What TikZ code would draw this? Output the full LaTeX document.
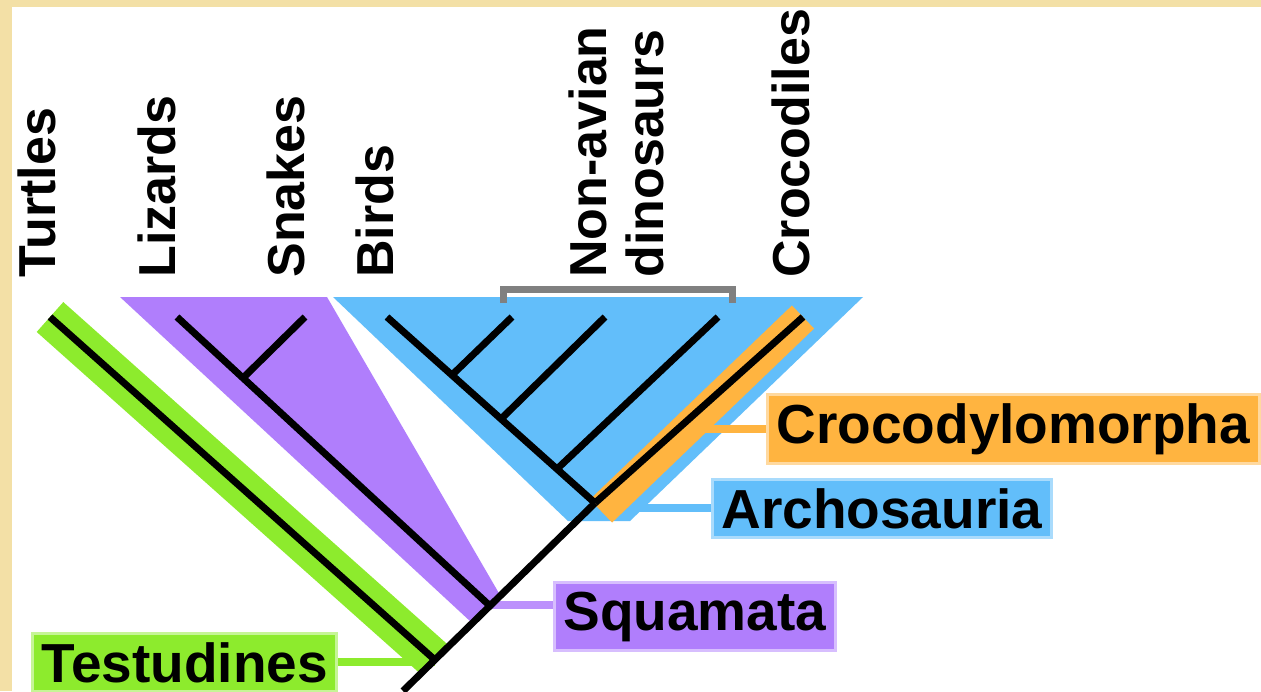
\documentclass[tikz,border=0pt]{standalone}
\usepackage{fontspec}
\setmainfont{Liberation Sans}
\usepackage{tikz}
\usetikzlibrary{calc}

\definecolor{parchment}{RGB}{243,224,166}
\definecolor{testgreen}{RGB}{141,235,45}
\definecolor{squapurple}{RGB}{176,126,252}
\definecolor{archblue}{RGB}{98,190,250}
\definecolor{crocorange}{RGB}{255,180,64}
\definecolor{brackgray}{RGB}{128,128,128}

\begin{document}
\begin{tikzpicture}[
    x=0.5pt, y=-0.5pt,
    branch/.style={line width=3.5pt, black},
    taxon/.style={rotate=90, anchor=base west, inner sep=0pt, font=\fontsize{26}{28}\selectfont\bfseries},
    cladebox/.style={anchor=base west, inner xsep=4.5pt, inner ysep=4.5pt, line width=1.5pt, font=\fontsize{27.5}{30}\selectfont\bfseries},
    link/.style={line width=4pt}
]
    \useasboundingbox (0,0) rectangle (1261,691);
    \fill[parchment] (0,0) rectangle (1261,691);
    \fill[white] (12,7) rectangle (1261,691);

    % tips and branch points
    \coordinate (root) at (403,691);
    \coordinate (turtnode) at (435,660);
    \coordinate (squanode) at (489,605);
    \coordinate (archnode) at (595,503);
    \coordinate (turtles) at (50,317);
    \coordinate (lizards) at (177,317);
    \coordinate (snakes) at (305,317);
    \coordinate (lsnode) at (243,378);
    \coordinate (birds) at (387,317);
    \coordinate (dinoA) at (512,317);
    \coordinate (dinoB) at (605,317);
    \coordinate (dinoC) at (718,317);
    \coordinate (crocs) at (803,317);
    \coordinate (bdnode) at (452,375);
    \coordinate (dnodeB) at (501,419);
    \coordinate (dnodeC) at (557,469);
    \coordinate (crocmid) at ($(crocs)!0.6!(archnode)$);

    % clade shading
    \fill[squapurple] (120,297) -- (327,297) -- (500,595) -- (471,622) -- cycle;
    \fill[archblue] (333,297) -- (863,297) -- (630,521) -- (568,521) -- cycle;

    % labels at the top
    \node[taxon] (lturtles) at (55,278) {Turtles};
    \node[taxon] (llizards) at (175,278) {Lizards};
    \node[taxon] (lsnakes) at (304,278) {Snakes};
    \node[taxon] (lbirds) at (393,278) {Birds};
    \node[taxon] (lnonavian) at (606,278) {Non-avian};
    \node[taxon] (ldinos) at (663,278) {dinosaurs};
    \node[taxon] (lcrocs) at (809,278) {Crocodiles};

    \draw[brackgray, line width=3.5pt] (503,303) -- (503,289) -- (732,289) -- (732,303);

    % clade names
    \node[cladebox, fill=testgreen, draw=testgreen!50!white] (testu) at (31,682) {Testudines};
    \node[cladebox, fill=squapurple, draw=squapurple!50!white] (squa) at (553,630) {Squamata};
    \node[cladebox, fill=archblue, draw=archblue!55!white] (archo) at (711,528) {Archosauria};
    \node[cladebox, fill=crocorange, draw=crocorange!50!white] (croco) at (766,443) {Crocodylomorpha};

    \draw[link, testgreen] (testu.east) -- (testu.east -| turtnode);
    \draw[link, squapurple!85!white] (squa.west |- squanode) -- (squanode);
    \draw[link, archblue] (archo.west) -- (archo.west -| archnode);
    \draw[link, crocorange] (croco.west) -- (croco.west -| crocmid);

    \draw[testgreen, line width=20pt] (turtles) -- (turtnode);
    \draw[crocorange, line width=16pt] (crocs) -- ($(archnode)+(6,8)$);

    % the tree
    \draw[branch] (root) -- (archnode);
    \draw[branch] (turtnode) -- (turtles);
    \draw[branch] (squanode) -- (lsnode) -- (lizards);
    \draw[branch] (lsnode) -- (snakes);
    \draw[branch] (archnode) -- (birds);
    \draw[branch] (bdnode) -- (dinoA);
    \draw[branch] (dnodeB) -- (dinoB);
    \draw[branch] (dnodeC) -- (dinoC);
    \draw[branch] (archnode) -- (crocs);
\end{tikzpicture}
\end{document}
